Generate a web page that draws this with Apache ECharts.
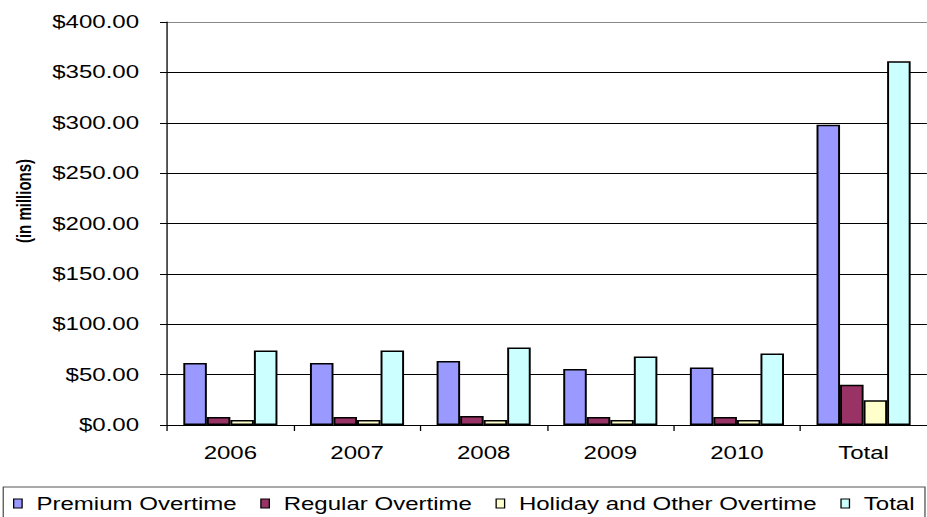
<!DOCTYPE html>
<html>
<head>
<meta charset="utf-8">
<script src="https://cdn.jsdelivr.net/npm/echarts@6/dist/echarts.min.js"></script>
<style>
html, body { margin: 0; padding: 0; background: #fff; overflow: hidden; }
#wrap { width: 927px; height: 517px; overflow: hidden; position: relative; }
#chart { width: 713px; height: 517px; transform: scaleX(1.3); transform-origin: 0 0; }
</style>
</head>
<body>
<div id="wrap"><div id="chart"></div></div>
<script>
var categories = ['2006', '2007', '2008', '2009', '2010', 'Total'];
var seriesNames = ['Premium Overtime', 'Regular Overtime', 'Holiday and Other Overtime', 'Total'];
var premium = [61.5, 61.5, 63.5, 55.5, 57, 298];
var regular = [8, 8, 9, 8, 8, 40];
var holiday = [5, 5, 5, 5, 5, 24.5];
var total = [74, 74, 77, 68, 71, 361];
var colors = ['#9999FF', '#993366', '#FFFFCC', '#CCFFFF'];
var yTicks = { min: 0, max: 400, interval: 50 };
var yAxisTitle = '(in millions)';

var chart = echarts.init(document.getElementById('chart'), null, { renderer: 'svg' });
var font = 'Liberation Sans, Arial, sans-serif';
var values = [premium, regular, holiday, total];
var series = seriesNames.map(function (n, i) {
  return {
    name: n,
    type: 'bar',
    data: values[i],
    barWidth: 18.1,
    barGap: '0%',
    itemStyle: { color: colors[i], borderColor: '#000', borderWidth: 1.5 },
    emphasis: { disabled: true }
  };
});
chart.setOption({
  animation: false,
  textStyle: { fontFamily: font },
  grid: { left: 128.5, top: 22, width: 589, height: 403, containLabel: false },
  legend: {
    data: seriesNames,
    left: 2.5, top: 487,
    orient: 'horizontal',
    padding: [7, 8, 8, 7.5],
    borderColor: '#555', borderWidth: 1,
    itemWidth: 6.5, itemHeight: 9, itemGap: 18,
    icon: 'rect',
    itemStyle: { borderColor: '#000', borderWidth: 1 },
    textStyle: { fontFamily: font, fontSize: 18.5, color: '#000', padding: [0, 0, 0, 6] }
  },
  xAxis: {
    type: 'category',
    data: categories,
    boundaryGap: true,
    axisLine: { lineStyle: { color: '#000', width: 1 } },
    axisTick: { show: true, length: 6, alignWithLabel: false, lineStyle: { color: '#000' } },
    axisLabel: { color: '#000', fontSize: 18.5, fontFamily: font, margin: 18 },
    splitLine: { show: false }
  },
  yAxis: {
    type: 'value',
    min: yTicks.min, max: yTicks.max, interval: yTicks.interval,
    axisLine: { show: true, lineStyle: { color: '#000', width: 1 } },
    axisTick: { show: true, length: 5.4, inside: false, lineStyle: { color: '#000' } },
    axisLabel: {
      color: '#000', fontSize: 18.5, fontFamily: font, margin: 21.5,
      formatter: function (v) { return '$' + v.toFixed(2); }
    },
    splitLine: { show: true, lineStyle: { color: ['#000', '#000', '#000', '#000', '#000', '#000', '#000', '#000', '#888'], width: 1 } }
  },
  graphic: [{
    type: 'text',
    x: 18.5, y: 201,
    rotation: Math.PI / 2,
    style: {
      text: yAxisTitle,
      font: 'bold 15px ' + font,
      fill: '#000',
      textAlign: 'center',
      textVerticalAlign: 'middle'
    }
  }],
  series: series
});
</script>
</body>
</html>
